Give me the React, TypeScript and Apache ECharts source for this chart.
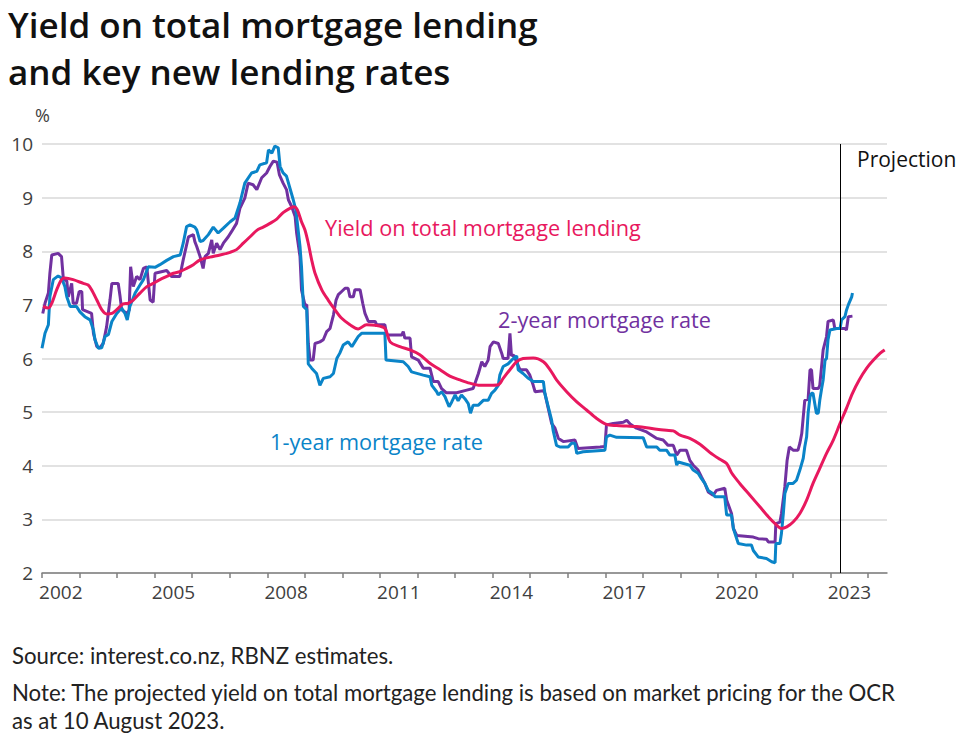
import React, { useEffect, useRef } from "react";
import * as echarts from "echarts";

// [decimal year, percent]
const oneYearRate: [number, number][] = [
  [2002.0, 6.19], [2002.08, 6.47], [2002.17, 6.63], [2002.21, 7.15], [2002.3, 7.47], [2002.43, 7.54],
  [2002.52, 7.5], [2002.61, 7.34], [2002.66, 7.15], [2002.75, 6.97], [2002.92, 6.97], [2003.01, 6.87],
  [2003.14, 6.78], [2003.28, 6.72], [2003.37, 6.53], [2003.41, 6.35], [2003.5, 6.19], [2003.59, 6.2],
  [2003.68, 6.41], [2003.77, 6.45], [2003.86, 6.69], [2003.99, 6.84], [2004.12, 6.94], [2004.21, 6.84],
  [2004.27, 6.72], [2004.34, 6.97], [2004.48, 7.22], [2004.61, 7.37], [2004.7, 7.47], [2004.83, 7.71],
  [2005.01, 7.7], [2005.14, 7.75], [2005.32, 7.83], [2005.5, 7.9], [2005.68, 7.93], [2005.76, 8.15],
  [2005.85, 8.46], [2005.94, 8.49], [2006.07, 8.45], [2006.12, 8.4], [2006.21, 8.18], [2006.29, 8.2],
  [2006.43, 8.31], [2006.56, 8.45], [2006.69, 8.34], [2006.83, 8.43], [2007.01, 8.55], [2007.14, 8.62],
  [2007.27, 8.9], [2007.4, 9.27], [2007.58, 9.46], [2007.72, 9.49], [2007.8, 9.61], [2007.98, 9.65],
  [2008.03, 9.89], [2008.12, 9.83], [2008.2, 9.96], [2008.29, 9.93], [2008.34, 9.58], [2008.42, 9.46],
  [2008.51, 9.4], [2008.6, 9.18], [2008.69, 8.96], [2008.76, 8.77], [2008.82, 8.4], [2008.87, 8.09],
  [2008.91, 7.71], [2008.96, 6.97], [2009.05, 6.91], [2009.09, 5.9], [2009.18, 5.82], [2009.31, 5.72],
  [2009.4, 5.5], [2009.49, 5.63], [2009.67, 5.66], [2009.76, 5.72], [2009.85, 6.0], [2009.93, 6.1],
  [2010.02, 6.25], [2010.15, 6.31], [2010.25, 6.22], [2010.33, 6.31], [2010.42, 6.41], [2010.51, 6.47],
  [2011.13, 6.47], [2011.16, 5.97], [2011.62, 5.94], [2011.75, 5.85], [2011.84, 5.75], [2012.15, 5.69],
  [2012.33, 5.66], [2012.38, 5.5], [2012.51, 5.38], [2012.55, 5.32], [2012.64, 5.38], [2012.73, 5.29],
  [2012.84, 5.1], [2012.91, 5.19], [2013.0, 5.32], [2013.08, 5.21], [2013.17, 5.32], [2013.26, 5.25],
  [2013.35, 5.16], [2013.41, 4.98], [2013.48, 5.13], [2013.62, 5.13], [2013.75, 5.22], [2013.88, 5.22],
  [2013.97, 5.35], [2014.06, 5.41], [2014.15, 5.5], [2014.19, 5.69], [2014.28, 5.85], [2014.41, 5.9],
  [2014.55, 6.0], [2014.64, 6.05], [2014.68, 5.79], [2014.81, 5.72], [2014.95, 5.63], [2015.08, 5.57],
  [2015.35, 5.57], [2015.39, 5.35], [2015.48, 5.1], [2015.57, 4.85], [2015.61, 4.66], [2015.7, 4.38],
  [2015.79, 4.35], [2016.01, 4.35], [2016.1, 4.42], [2016.19, 4.42], [2016.24, 4.23], [2016.41, 4.26],
  [2016.99, 4.29], [2017.03, 4.54], [2017.12, 4.57], [2017.3, 4.53], [2018.01, 4.52], [2018.1, 4.35],
  [2018.37, 4.35], [2018.45, 4.29], [2018.63, 4.29], [2018.72, 4.2], [2018.85, 4.2], [2018.9, 4.01],
  [2018.94, 4.07], [2019.25, 4.01], [2019.34, 3.92], [2019.47, 3.86], [2019.56, 3.76], [2019.65, 3.67],
  [2019.74, 3.54], [2019.87, 3.48], [2019.92, 3.42], [2020.18, 3.42], [2020.23, 3.08], [2020.36, 3.08],
  [2020.41, 2.83], [2020.45, 2.74], [2020.54, 2.55], [2020.76, 2.52], [2020.89, 2.52], [2020.94, 2.42],
  [2021.07, 2.3], [2021.29, 2.27], [2021.43, 2.21], [2021.52, 2.19], [2021.54, 2.55], [2021.65, 2.55],
  [2021.69, 2.74], [2021.74, 3.11], [2021.78, 3.48], [2021.87, 3.67], [2022.0, 3.67], [2022.09, 3.73],
  [2022.18, 3.92], [2022.27, 4.14], [2022.31, 4.35], [2022.36, 4.54], [2022.4, 4.98], [2022.45, 5.29],
  [2022.49, 5.35], [2022.53, 5.35], [2022.62, 4.98], [2022.67, 4.98], [2022.71, 5.22], [2022.76, 5.44],
  [2022.8, 5.6], [2022.85, 5.97], [2022.89, 6.0], [2022.93, 6.35], [2022.98, 6.53], [2023.16, 6.56],
  [2023.25, 6.56], [2023.29, 6.72], [2023.38, 6.78], [2023.42, 6.9], [2023.47, 7.0], [2023.56, 7.15],
  [2023.58, 7.22],
];

const twoYearRate: [number, number][] = [
  [2002.02, 6.84], [2002.08, 7.03], [2002.17, 7.22], [2002.21, 7.59], [2002.26, 7.93], [2002.43, 7.96],
  [2002.52, 7.9], [2002.57, 7.47], [2002.66, 7.45], [2002.7, 7.15], [2002.79, 7.4], [2002.83, 7.03],
  [2002.92, 7.03], [2002.99, 7.25], [2003.06, 7.25], [2003.08, 6.91], [2003.32, 6.84], [2003.37, 6.47],
  [2003.46, 6.22], [2003.54, 6.2], [2003.63, 6.28], [2003.72, 6.59], [2003.81, 7.09], [2003.86, 7.4],
  [2004.03, 7.4], [2004.08, 7.15], [2004.12, 6.91], [2004.26, 6.84], [2004.32, 6.9], [2004.36, 7.71],
  [2004.43, 7.34], [2004.52, 7.53], [2004.61, 7.47], [2004.7, 7.68], [2004.79, 7.71], [2004.88, 7.09],
  [2004.96, 7.05], [2005.01, 7.59], [2005.32, 7.64], [2005.45, 7.53], [2005.67, 7.53], [2005.76, 7.84],
  [2005.9, 8.27], [2006.03, 8.31], [2006.07, 8.18], [2006.12, 8.09], [2006.21, 7.9], [2006.29, 7.68],
  [2006.34, 7.9], [2006.43, 7.96], [2006.52, 8.21], [2006.56, 7.96], [2006.65, 8.15], [2006.74, 8.03],
  [2006.83, 8.15], [2006.96, 8.27], [2007.05, 8.37], [2007.18, 8.52], [2007.27, 8.8], [2007.4, 8.99],
  [2007.49, 9.27], [2007.62, 9.24], [2007.72, 9.15], [2007.85, 9.37], [2007.98, 9.46], [2008.07, 9.58],
  [2008.16, 9.68], [2008.26, 9.66], [2008.32, 9.43], [2008.42, 9.27], [2008.51, 9.15], [2008.56, 8.96],
  [2008.65, 8.83], [2008.74, 8.65], [2008.78, 8.34], [2008.87, 7.9], [2008.91, 7.28], [2009.0, 7.0],
  [2009.05, 7.0], [2009.09, 6.28], [2009.14, 5.97], [2009.22, 5.97], [2009.27, 6.28], [2009.4, 6.31],
  [2009.49, 6.35], [2009.58, 6.5], [2009.67, 6.56], [2009.76, 6.81], [2009.83, 7.09], [2009.89, 7.19],
  [2009.98, 7.25], [2010.07, 7.31], [2010.15, 7.31], [2010.2, 7.15], [2010.29, 7.15], [2010.33, 7.28],
  [2010.47, 7.28], [2010.54, 7.03], [2010.6, 6.84], [2010.69, 6.69], [2010.87, 6.69], [2010.91, 6.63],
  [2011.13, 6.63], [2011.18, 6.44], [2011.58, 6.44], [2011.62, 6.5], [2011.66, 6.38], [2011.8, 6.38],
  [2011.84, 6.03], [2012.02, 5.97], [2012.15, 5.82], [2012.33, 5.82], [2012.42, 5.57], [2012.55, 5.57],
  [2012.64, 5.44], [2012.77, 5.36], [2013.04, 5.36], [2013.31, 5.41], [2013.48, 5.44], [2013.53, 5.54],
  [2013.62, 5.72], [2013.71, 5.94], [2013.79, 5.85], [2013.88, 5.97], [2013.93, 6.22], [2014.02, 6.31],
  [2014.15, 6.28], [2014.24, 6.1], [2014.28, 6.0], [2014.41, 6.0], [2014.46, 6.47], [2014.5, 6.05],
  [2014.55, 6.07], [2014.73, 5.79], [2014.9, 5.79], [2014.99, 5.69], [2015.08, 5.5], [2015.13, 5.38],
  [2015.35, 5.4], [2015.39, 5.35], [2015.48, 5.07], [2015.57, 4.79], [2015.66, 4.7], [2015.75, 4.51],
  [2015.88, 4.45], [2016.19, 4.48], [2016.27, 4.32], [2016.86, 4.35], [2016.99, 4.36], [2017.03, 4.76],
  [2017.21, 4.79], [2017.48, 4.81], [2017.57, 4.85], [2017.66, 4.78], [2017.83, 4.7], [2018.1, 4.63],
  [2018.37, 4.51], [2018.54, 4.48], [2018.67, 4.38], [2018.81, 4.38], [2018.9, 4.2], [2018.99, 4.29],
  [2019.16, 4.29], [2019.25, 4.1], [2019.34, 4.01], [2019.47, 3.92], [2019.56, 3.79], [2019.65, 3.67],
  [2019.74, 3.51], [2019.87, 3.45], [2019.96, 3.54], [2020.18, 3.58], [2020.23, 3.36], [2020.36, 3.11],
  [2020.41, 2.83], [2020.5, 2.7], [2020.94, 2.67], [2021.07, 2.64], [2021.29, 2.63], [2021.34, 2.58],
  [2021.52, 2.58], [2021.54, 2.92], [2021.65, 2.95], [2021.69, 3.11], [2021.78, 3.61], [2021.84, 4.1],
  [2021.9, 4.35], [2022.0, 4.29], [2022.13, 4.29], [2022.18, 4.42], [2022.23, 4.6], [2022.31, 5.22],
  [2022.4, 5.24], [2022.45, 5.79], [2022.49, 5.79], [2022.53, 5.44], [2022.67, 5.44], [2022.71, 5.5],
  [2022.8, 6.16], [2022.89, 6.41], [2022.93, 6.69], [2023.07, 6.72], [2023.11, 6.56], [2023.38, 6.56],
  [2023.42, 6.53], [2023.47, 6.78], [2023.58, 6.79],
];

const mortgageYield: [number, number][] = [
  [2002.03, 6.97], [2002.17, 6.94], [2002.26, 7.03], [2002.39, 7.28], [2002.52, 7.47], [2002.61, 7.5],
  [2002.83, 7.47], [2003.1, 7.4], [2003.23, 7.37], [2003.32, 7.28], [2003.46, 7.09], [2003.59, 6.91],
  [2003.72, 6.83], [2003.86, 6.84], [2003.99, 6.91], [2004.16, 7.02], [2004.3, 7.03], [2004.43, 7.09],
  [2004.61, 7.22], [2004.79, 7.34], [2004.96, 7.4], [2005.14, 7.47], [2005.32, 7.53], [2005.5, 7.59],
  [2005.67, 7.62], [2005.85, 7.68], [2006.03, 7.75], [2006.21, 7.84], [2006.47, 7.89], [2006.74, 7.93],
  [2007.01, 7.98], [2007.18, 8.03], [2007.36, 8.15], [2007.54, 8.27], [2007.72, 8.39], [2007.89, 8.45],
  [2008.07, 8.52], [2008.25, 8.6], [2008.42, 8.72], [2008.6, 8.8], [2008.71, 8.83], [2008.8, 8.77],
  [2008.91, 8.55], [2009.0, 8.4], [2009.09, 8.15], [2009.18, 7.84], [2009.27, 7.59], [2009.45, 7.28],
  [2009.62, 7.09], [2009.8, 6.91], [2009.98, 6.75], [2010.2, 6.63], [2010.42, 6.55], [2010.64, 6.63],
  [2010.87, 6.62], [2011.13, 6.56], [2011.27, 6.31], [2011.53, 6.22], [2011.8, 6.16], [2012.06, 6.07],
  [2012.33, 5.91], [2012.6, 5.79], [2012.86, 5.67], [2013.13, 5.6], [2013.39, 5.54], [2013.66, 5.5],
  [2013.93, 5.5], [2014.15, 5.51], [2014.28, 5.63], [2014.46, 5.79], [2014.64, 5.94], [2014.81, 6.0],
  [2015.08, 6.01], [2015.35, 5.94], [2015.53, 5.79], [2015.7, 5.6], [2015.97, 5.38], [2016.24, 5.19],
  [2016.5, 5.04], [2016.77, 4.88], [2017.03, 4.77], [2017.3, 4.75], [2017.57, 4.74], [2017.83, 4.73],
  [2018.1, 4.71], [2018.37, 4.68], [2018.63, 4.66], [2018.81, 4.65], [2018.99, 4.57], [2019.25, 4.51],
  [2019.52, 4.4], [2019.78, 4.25], [2020.05, 4.12], [2020.23, 4.04], [2020.36, 3.87], [2020.58, 3.67],
  [2020.85, 3.45], [2021.12, 3.23], [2021.34, 3.05], [2021.52, 2.92], [2021.69, 2.83], [2021.83, 2.86],
  [2022.0, 2.95], [2022.18, 3.11], [2022.36, 3.36], [2022.53, 3.67], [2022.71, 3.95], [2022.89, 4.23],
  [2023.07, 4.48], [2023.25, 4.79], [2023.42, 5.07], [2023.58, 5.35], [2023.76, 5.6], [2023.96, 5.82],
  [2024.14, 5.97], [2024.32, 6.1], [2024.44, 6.16],
];

const projectionStart = 2023.25;
const xTickYears = [2002, 2003, 2004, 2005, 2006, 2007, 2008, 2009, 2010, 2011, 2012, 2013, 2014, 2015, 2016, 2017, 2018, 2019, 2020, 2021, 2022, 2023, 2024];
const xLabelYears = [2002, 2005, 2008, 2011, 2014, 2017, 2020, 2023];

const PINK = "#E8185E";
const PURPLE = "#7131A0";
const BLUE = "#0A84C8";

export default function App() {
  const ref = useRef<HTMLDivElement>(null);
  useEffect(() => {
    document.body.style.margin = "0";
    const chart = echarts.init(ref.current!, null, { renderer: "svg" });
    const font = "'Open Sans', 'Noto Sans', sans-serif";
    const footFont = "Lato, 'Noto Sans', sans-serif";
    chart.setOption({
      animation: false,
      grid: { left: 42, right: 74, top: 144, bottom: 166, containLabel: false },
      xAxis: {
        type: "value",
        min: 2002,
        max: 2024.5,
        interval: 1,
        axisLine: { show: true, lineStyle: { color: "#7f7f7f", width: 1.5 } },
        axisTick: { show: true, length: 5, lineStyle: { color: "#7f7f7f", width: 1.5 }, customValues: xTickYears },
        axisLabel: {
          show: true,
          customValues: xLabelYears.map((y) => y + 0.5),
          formatter: (v: number) => String(Math.floor(v)),
          color: "#404040",
          fontSize: 19,
          fontFamily: font,
          margin: 9,
        },
        splitLine: { show: false },
      },
      yAxis: {
        type: "value",
        min: 2,
        max: 10,
        interval: 1,
        axisLine: { show: false },
        axisTick: { show: false },
        axisLabel: { color: "#404040", fontSize: 19, fontFamily: font, margin: 9 },
        splitLine: { show: true, lineStyle: { color: "#d9d9d9", width: 1.5 } },
      },
      series: [
        {
          name: "2-year mortgage rate",
          type: "line",
          data: twoYearRate,
          showSymbol: false,
          lineStyle: { color: PURPLE, width: 3 },
          itemStyle: { color: PURPLE },
          z: 2,
        },
        {
          name: "1-year mortgage rate",
          type: "line",
          data: oneYearRate,
          showSymbol: false,
          lineStyle: { color: BLUE, width: 3 },
          itemStyle: { color: BLUE },
          z: 3,
          markLine: {
            silent: true,
            symbol: "none",
            label: { show: false },
            lineStyle: { color: "#000", width: 1, type: "solid" },
            data: [{ xAxis: projectionStart }],
          },
        },
        {
          name: "Yield on total mortgage lending",
          type: "line",
          data: mortgageYield,
          showSymbol: false,
          smooth: 0.3,
          lineStyle: { color: PINK, width: 3 },
          itemStyle: { color: PINK },
          z: 4,
        },
      ],
      graphic: [
        { type: "text", x: 8, y: 24, style: { text: "Yield on total mortgage lending", font: `600 35px ${font}`, fill: "#111", verticalAlign: "middle" } },
        { type: "text", x: 8, y: 71, style: { text: "and key new lending rates", font: `600 35px ${font}`, fill: "#111", verticalAlign: "middle" } },
        { type: "text", left: 35, top: 106, style: { text: "%", font: `18px ${font}`, fill: "#404040" } },
        { type: "text", left: 857, top: 148, style: { text: "Projection", font: `21px ${font}`, fill: "#111" } },
        { type: "text", left: 325, top: 216, style: { text: "Yield on total mortgage lending", font: `21.7px ${font}`, fill: PINK } },
        { type: "text", left: 498, top: 308, style: { text: "2-year mortgage rate", font: `21.7px ${font}`, fill: PURPLE } },
        { type: "text", left: 270, top: 430, style: { text: "1-year mortgage rate", font: `21.7px ${font}`, fill: BLUE } },
        { type: "text", left: 12, top: 644, style: { text: "Source: interest.co.nz, RBNZ estimates.", font: `22.2px ${footFont}`, fill: "#222" } },
        { type: "text", left: 12, top: 681, style: { text: "Note: The projected yield on total mortgage lending is based on market pricing for the OCR", font: `22.2px ${footFont}`, fill: "#222" } },
        { type: "text", left: 12, top: 709, style: { text: "as at 10 August 2023.", font: `22.2px ${footFont}`, fill: "#222" } },
      ],
    });
    return () => chart.dispose();
  }, []);
  return <div ref={ref} style={{ width: 961, height: 739 }} />;
}
